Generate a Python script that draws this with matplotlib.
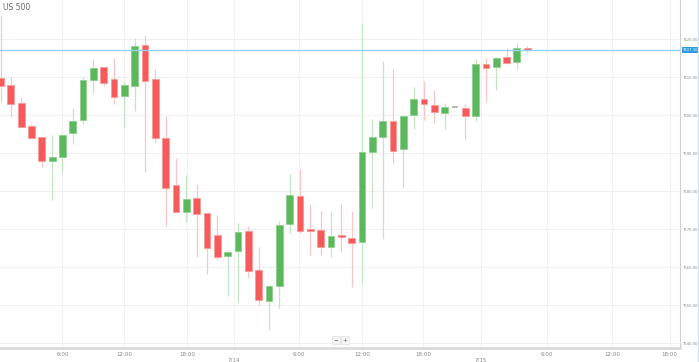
import matplotlib.pyplot as plt
from matplotlib.lines import Line2D

# hourly candles, US 500
opens = [7609.7, 7607.9, 7603.2, 7597.1, 7594.2, 7587.9, 7588.9, 7595.3, 7598.7, 7609.2,
         7612.6, 7609.5, 7605.0, 7607.6, 7618.4, 7609.5, 7593.9, 7581.6, 7574.5, 7578.2,
         7574.2, 7568.4, 7562.9, 7564.2, 7569.5, 7559.2, 7551.1, 7555.0, 7571.3, 7578.7,
         7570.0, 7569.7, 7565.3, 7568.4, 7567.6, 7566.6, 7590.3, 7594.2, 7598.4, 7591.1,
         7600.0, 7604.2, 7602.6, 7600.5, 7602.1, 7601.8, 7599.7, 7613.4, 7612.6, 7615.3,
         7613.9, 7617.6]
highs = [7626.3, 7610.0, 7604.7, 7597.6, 7594.2, 7594.7, 7595.3, 7601.8, 7610.0, 7614.7,
         7612.6, 7615.0, 7608.7, 7620.3, 7621.1, 7612.1, 7599.7, 7588.7, 7584.2, 7581.8,
         7574.2, 7573.7, 7564.5, 7571.6, 7570.8, 7565.3, 7555.3, 7572.1, 7584.5, 7585.8,
         7576.6, 7574.7, 7574.5, 7576.6, 7574.7, 7624.2, 7598.9, 7614.2, 7612.1, 7599.7,
         7607.4, 7608.9, 7606.6, 7603.2, 7602.1, 7602.9, 7614.7, 7615.0, 7615.3, 7617.6,
         7618.9, 7618.2]
lows = [7603.4, 7599.5, 7596.8, 7593.9, 7586.3, 7577.6, 7584.7, 7592.4, 7597.6, 7605.8,
        7607.6, 7602.9, 7596.6, 7601.1, 7585.0, 7592.6, 7570.8, 7574.5, 7571.8, 7562.6,
        7558.2, 7561.8, 7552.4, 7550.8, 7557.1, 7550.0, 7543.4, 7549.2, 7568.9, 7568.9,
        7563.2, 7563.2, 7562.6, 7563.9, 7554.7, 7555.8, 7575.5, 7567.4, 7587.4, 7580.8,
        7596.3, 7598.7, 7597.9, 7596.3, 7602.1, 7593.7, 7598.4, 7603.4, 7606.6, 7613.4,
        7612.1, 7616.6]
closes = [7607.6, 7602.9, 7596.8, 7593.9, 7587.9, 7588.9, 7594.7, 7598.4, 7609.2, 7612.4,
          7608.4, 7604.7, 7607.9, 7618.2, 7608.9, 7593.9, 7580.8, 7574.5, 7577.9, 7573.9,
          7565.0, 7562.6, 7563.9, 7569.2, 7558.9, 7551.3, 7555.0, 7571.1, 7578.9, 7569.5,
          7569.5, 7565.3, 7568.2, 7567.9, 7566.3, 7590.3, 7594.2, 7598.4, 7590.5, 7599.7,
          7604.2, 7602.9, 7600.8, 7602.1, 7602.1, 7599.7, 7613.4, 7612.4, 7615.0, 7613.7,
          7617.6, 7617.1]
last_price = 7617.1

x_tick_pos = [6, 12, 18.1, 22.6, 28.9, 35, 40.9, 46.5, 52.9, 59.2, 64.8]
x_tick_labels = ['6:00', '12:00', '18:00', '\n7/14', '6:00', '12:00', '18:00', '\n7/15',
                 '6:00', '12:00', '18:00']
y_ticks = [7540, 7550, 7560, 7570, 7580, 7590, 7600, 7610, 7620]

UP = '#5cb85c'
UP_EDGE = '#8fd08f'
UP_WICK = '#c4e6c4'
DN = '#f65b5b'
DN_EDGE = '#fb9a9a'
DN_WICK = '#fbc6c6'

fig = plt.figure(figsize=(6.99, 3.62), dpi=100)
ax = fig.add_axes([0, 14 / 362, 680 / 699, 348 / 362])

for i in range(len(opens)):
    o, h, l, c = opens[i], highs[i], lows[i], closes[i]
    if c > o:
        body, edge, wick = UP, UP_EDGE, UP_WICK
    elif c < o:
        body, edge, wick = DN, DN_EDGE, DN_WICK
    else:
        body, edge, wick = '#aaaaaa', '#aaaaaa', '#cccccc'
    ax.vlines(i, l, h, color=wick, linewidth=0.9, zorder=2)
    height = abs(c - o)
    if height < 0.3:
        ax.hlines(o, i - 0.32, i + 0.32, color=body, linewidth=1.2, zorder=3)
    else:
        ax.bar(i, height, bottom=min(o, c), width=0.65, color=body,
               edgecolor=edge, linewidth=0.6, zorder=3)

ax.axhline(last_price, color='#8fd3f7', linewidth=1.0, zorder=4)

ax.set_xlim(-0.05, 65.8)
ax.set_ylim(7538.7, 7630.3)
ax.set_xticks(x_tick_pos)
ax.set_xticklabels(x_tick_labels)
ax.set_yticks(y_ticks)
ax.set_yticklabels(['%.2f' % v for v in y_ticks])
ax.yaxis.tick_right()
ax.tick_params(axis='x', length=0, labelsize=4, labelcolor='#888888', pad=3)
ax.tick_params(axis='y', length=0, labelsize=2.7, labelcolor='#888888', pad=2)
ax.grid(True, color='#f1f1f1', linewidth=0.8, zorder=0)
ax.set_axisbelow(True)

for side in ['top', 'left']:
    ax.spines[side].set_visible(False)
ax.spines['right'].set_color('#d0d0d0')
ax.spines['right'].set_linewidth(0.8)
ax.spines['bottom'].set_color('#d8d8d8')
ax.spines['bottom'].set_linewidth(1.8)

# current price label
ax.annotate('%.2f' % last_price, xy=(1.0, last_price), xycoords=('axes fraction', 'data'),
            xytext=(2, 0), textcoords='offset points', va='center', ha='left',
            fontsize=2.7, color='white',
            bbox=dict(boxstyle='square,pad=0.3', fc='#2e9be0', ec='none'))

fig.text(3 / 699, 1 - 8 / 362, 'US 500', fontsize=5.5, color='#666666', va='center', ha='left')

# zoom buttons
for xpos, s in [(336, '−'), (345, '+')]:
    fig.text(xpos / 699, 1 - 340 / 362, s, fontsize=4, color='#555555', ha='center', va='center',
             bbox=dict(boxstyle='square,pad=0.3', fc='#f4f4f4', ec='#e2e2e2', lw=0.5))

fig.add_artist(Line2D([697.5 / 699, 697.5 / 699], [0, 1], color='#cfe3f2', linewidth=1.0))

fig.savefig('out.png', dpi=100)
